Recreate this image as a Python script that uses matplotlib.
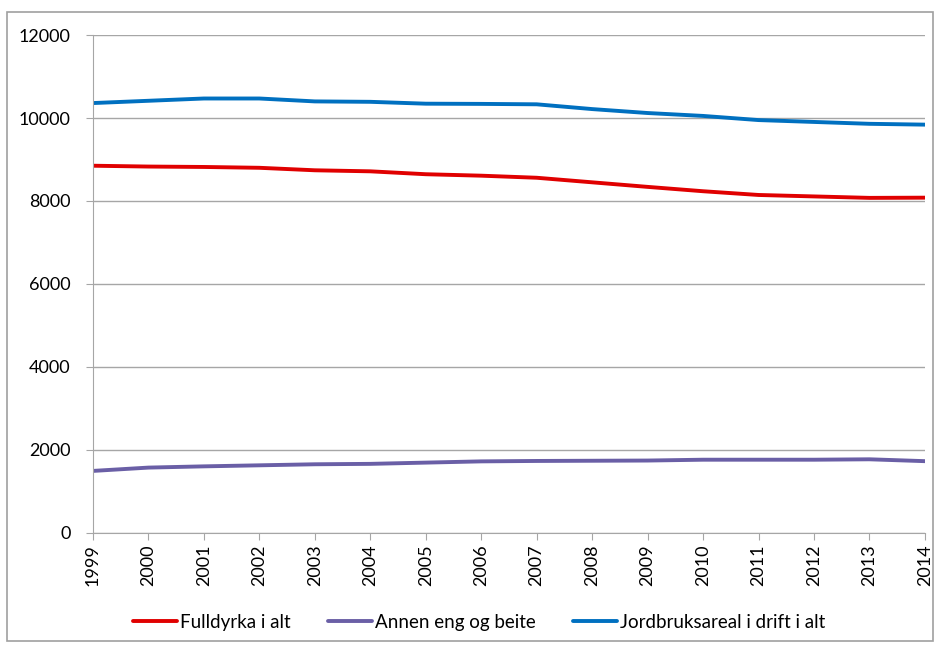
import matplotlib
matplotlib.use("Agg")
import matplotlib.pyplot as plt
from matplotlib.patches import Rectangle

# areal per år (dekar x 1000)
years = list(range(1999, 2015))
fulldyrka = [8850, 8830, 8820, 8800, 8740, 8715, 8645, 8610,
             8560, 8450, 8340, 8235, 8145, 8110, 8075, 8080]
annen_eng = [1495, 1575, 1605, 1630, 1655, 1665, 1695, 1725,
             1735, 1740, 1745, 1765, 1765, 1765, 1775, 1730]
jordbruksareal = [10360, 10415, 10470, 10470, 10400, 10390, 10345, 10340,
                  10330, 10215, 10120, 10050, 9950, 9905, 9860, 9840]
series_labels = ["Fulldyrka i alt", "Annen eng og beite", "Jordbruksareal i drift i alt"]
y_ticks = [0, 2000, 4000, 6000, 8000, 10000, 12000]

plt.rcParams["font.family"] = ["Lato", "DejaVu Sans"]

fig = plt.figure(figsize=(9.38, 6.46), dpi=100)
ax = fig.add_axes([0.0991, 0.175, 0.887, 0.7708])

colors = ["#E00000", "#6A5FA6", "#0070C0"]
for vals, lab, col in zip([fulldyrka, annen_eng, jordbruksareal], series_labels, colors):
    ax.plot(years, vals, color=col, lw=2.8, label=lab, solid_capstyle="round")

ax.set_xlim(1999, 2014)
ax.set_ylim(0, 12000)
ax.set_yticks(y_ticks)
ax.set_yticklabels([str(v) for v in y_ticks], fontsize=13)
ax.set_xticks(years)
ax.set_xticklabels([str(y) for y in years], rotation=90, fontsize=13)
ax.yaxis.grid(True, color="#A6A6A6", lw=1)
ax.set_axisbelow(True)
for side in ("top", "right"):
    ax.spines[side].set_visible(False)
for side in ("left", "bottom"):
    ax.spines[side].set_color("#A6A6A6")
ax.tick_params(axis="both", color="#A6A6A6", length=5)
ax.tick_params(axis="y", pad=11)
ax.tick_params(axis="x", pad=3)

fig.legend(loc="center", bbox_to_anchor=(0.511, 0.037), ncol=3, frameon=False,
           fontsize=13.5, handlelength=2.35, handletextpad=0.15, columnspacing=2.0)

# ytre ramme rundt hele diagrammet
fig.patches.append(Rectangle((7 / 938, 1 - 641 / 646), 926 / 938, 629 / 646,
                             transform=fig.transFigure, fill=False,
                             edgecolor="#A0A0A0", lw=1.2))

fig.savefig("out.png", dpi=100)
